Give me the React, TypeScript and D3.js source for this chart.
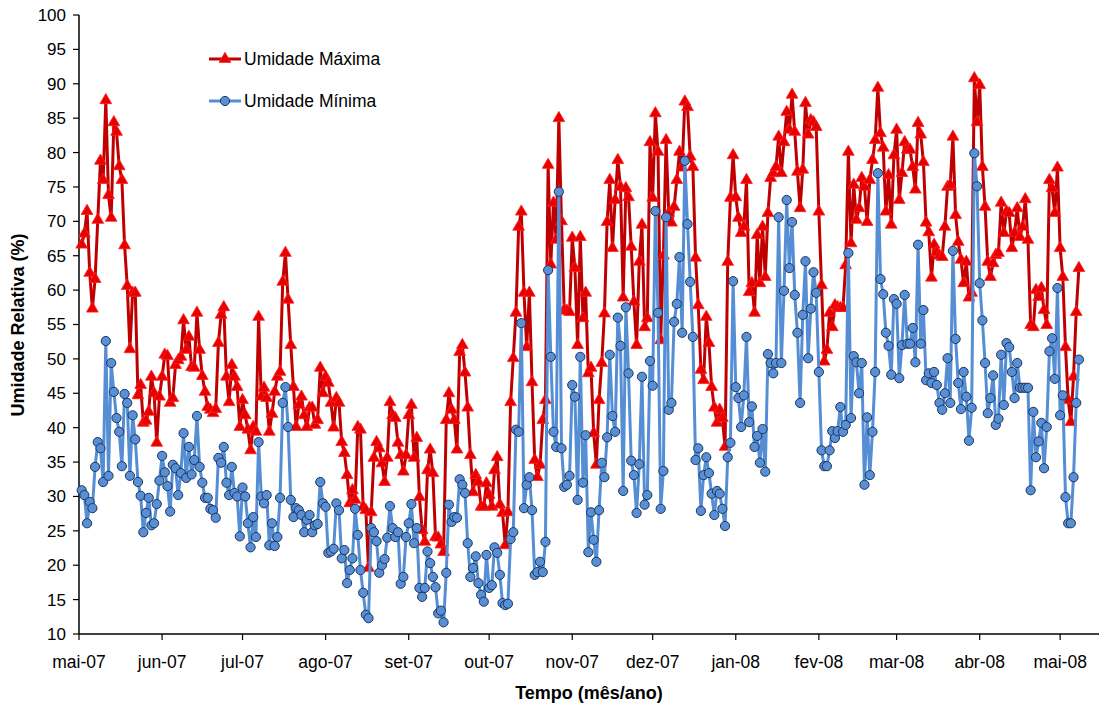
import React from "react";
import * as d3 from "d3";

// ---- Data (daily values, starting 2 May 2007) ----
const maxMay07 = [66.6, 68.2, 71.5, 62.5, 57.3, 61.6, 70.2, 78.8, 76, 87.6, 73.8, 70.5, 84.4, 83, 78, 76, 66.5, 60.6, 51.4, 59.6, 59.6, 44.7, 46.2, 40.7, 41, 42.3, 47.4, 45, 37.8, 44.5];
const maxJun07 = [47.4, 50.6, 50.4, 43.6, 44.3, 49.1, 49.8, 50.3, 55.6, 51.3, 53.2, 48.8, 48.7, 56.7, 51.3, 47.5, 45.2, 43, 42.6, 42.1, 42.7, 52.3, 56.4, 57.5, 47.4, 43.7, 49.1, 47.4, 45.9, 40.1];
const maxJul07 = [44, 41.8, 39.7, 36.7, 40.1, 39.4, 56.1, 44.5, 45.8, 44.3, 39.4, 42, 45.2, 47.4, 48.1, 61.2, 65.4, 58.6, 52, 45.9, 40.1, 43.3, 44.5, 41.8, 40.1, 42.9, 42.9, 40.4, 41.1, 48.7, 45];
const maxAug07 = [47.4, 46.5, 43.6, 40, 44.3, 43.6, 37.9, 36.3, 33.1, 29, 30.9, 29.5, 40.1, 39.7, 28.5, 28, 19.6, 27.7, 35.6, 37.9, 37, 34.8, 32.1, 35.6, 43.7, 41.8, 41.4, 37.8, 36, 33.6, 36];
const maxSep07 = [41.8, 43.3, 35.6, 38.5, 29.9, 25.1, 23.4, 33.8, 36.8, 33.4, 24.1, 24, 23, 21.9, 41.1, 45, 42.6, 41.1, 36.8, 51, 52, 48, 42.9, 36, 30.6, 33.1, 32.1, 28.5, 28.5, 31.9];
const maxOct07 = [30.2, 28.5, 33.8, 35.7, 28.8, 27.6, 22.9, 27.7, 43.7, 50.1, 56.7, 69.2, 71.4, 59.6, 51.7, 59.6, 46.6, 35.3, 32.8, 34.6, 41.1, 44, 78.2, 63.7, 72.7, 67.3, 85, 70, 57.1, 57, 56.8];
const maxNov07 = [67.6, 63.2, 52, 67.7, 55.9, 59.6, 47.9, 48.7, 39.2, 34.6, 44, 49.4, 56.6, 69.9, 76, 66.1, 73.1, 78.9, 75, 58.9, 74.8, 73.5, 66.3, 58.3, 52, 64.1, 69.5, 54.6, 55.9, 81.5];
const maxDec07 = [73.4, 85.7, 80.1, 52.7, 65, 81.8, 71.2, 69.8, 72.1, 76, 80.1, 77.8, 87.4, 86.6, 79.4, 77.9, 64.7, 57.8, 48.4, 46.9, 56.1, 52.3, 45.9, 42.9, 40.7, 42.6, 41.4, 37.2, 64.1, 73.4, 79.6];
const maxJan08 = [73.5, 70.5, 68.3, 69.2, 76, 59.7, 61, 56.7, 68, 61, 69.2, 61.9, 71.2, 76.3, 77, 77.9, 82.3, 77, 81.5, 85.9, 83.3, 88.4, 83, 77.2, 71.9, 77.5, 87.2, 82.6, 84.7, 84.4, 83.7];
const maxFeb08 = [71.4, 60.7, 49.6, 51.3, 56.7, 54.6, 57.8, 57.5, 57.4, 57.4, 63.6, 80.1, 66.8, 75.3, 70.2, 71.9, 76.3, 75, 69.9, 76, 78.9, 81.8, 89.4, 82.8, 80.7, 71.4, 76.7, 69.5, 79.6];
const maxMar08 = [83.3, 73.1, 77, 81.5, 80.4, 80.4, 77.9, 74.6, 84.3, 82.6, 78.6, 69.8, 68.4, 61.8, 66.6, 65.5, 65, 64.8, 69.2, 75, 75.3, 82.3, 70.9, 67, 64.4, 61, 64.1, 58.9, 59.6, 90.8, 84.4];
const maxApr08 = [89.8, 77.9, 72.1, 64.1, 61.9, 63.9, 65.1, 65.4, 72.7, 68.3, 71.4, 71.2, 66.1, 68.3, 71.9, 67.7, 69.2, 73.2, 67.3, 54.9, 54.6, 60, 59, 60.3, 57.1, 54.9, 76, 74.8, 71.2, 77.8];
const maxMay08 = [66.1, 61.9, 51.7, 44, 40.8, 47.4, 56.8, 63.2];

const minMay07 = [30.9, 30.2, 26.1, 29.2, 28.3, 34.3, 37.9, 37, 32.1, 52.6, 33, 49.4, 45.2, 41.4, 39.4, 34.4, 44.9, 43.6, 33, 41.8, 38.3, 32.1, 30.1, 24.8, 27.6, 29.8, 25.8, 26.1, 28.9, 32.3];
const minJun07 = [35.9, 33.5, 31.5, 27.8, 34.6, 34.1, 30.2, 33.4, 39.2, 32.7, 37.2, 33.2, 35.3, 41.7, 34.3, 32, 29.8, 29.8, 28.2, 28, 26.9, 35.6, 34.9, 37.2, 32, 30.2, 34.3, 30.5, 30, 24.2];
const minJul07 = [31.3, 30, 26.1, 22.6, 27, 24.1, 37.9, 30, 29, 30.2, 22.9, 26.1, 22.8, 24.1, 29.8, 43.6, 45.9, 40.1, 29.5, 27, 28.3, 28, 27.3, 24.8, 26.6, 27.3, 24.8, 25.8, 26, 32.1, 29];
const minAug07 = [28.5, 21.8, 22, 22.4, 29, 28, 21, 22.2, 17.4, 19.3, 21, 28.2, 24.4, 19.3, 16, 12.8, 12.3, 25.4, 24.8, 23.5, 18.9, 20, 20.9, 24, 28.6, 25.4, 24.1, 24.8, 17.3, 18.3, 24.1];
const minSep07 = [26.1, 28.9, 23.2, 25.4, 16.7, 15.4, 16.7, 22, 20.3, 18.3, 16.8, 13, 13.4, 11.7, 18.9, 28.8, 26.3, 27, 26.9, 32.5, 31.7, 30.5, 23.2, 18.3, 19.6, 21.3, 17.4, 15.7, 14.7, 21.5];
const minOct07 = [16.7, 17.1, 22.6, 21.8, 18.6, 14.5, 14.2, 14.4, 23.8, 24.8, 39.7, 39.4, 55.2, 28.3, 31.7, 32.8, 28, 18.6, 19, 20.5, 19, 23.4, 62.9, 50.3, 39.4, 37.2, 74.3, 37, 31.4, 31.7, 33];
const minNov07 = [46.2, 44.5, 29.5, 50.3, 32, 38.9, 21.9, 27.7, 23.7, 20.5, 28, 34.9, 32.8, 38.6, 50.6, 41.7, 39.4, 56, 51.9, 30.8, 57.5, 47.9, 35.2, 33.1, 27.6, 34.7, 47.4, 28.8, 30.2, 49.7];
const minDec07 = [46.1, 71.5, 56.7, 28.2, 33.7, 70.6, 42.6, 43.6, 55.4, 58, 64.8, 53.8, 78.8, 69.6, 61.2, 53.2, 35.3, 37, 27.9, 33.1, 35.7, 33.4, 30.4, 27.3, 30.8, 30.4, 28.2, 25.7, 35.7, 37.8, 61.3];
const minJan08 = [45.9, 44.3, 40.1, 44.7, 53.2, 40.8, 43.1, 37.2, 38.8, 34.9, 39.8, 33.6, 50.7, 49.4, 47.9, 49.4, 70.6, 49.4, 59.9, 73.1, 63.2, 69.9, 59.3, 53.8, 43.6, 56.4, 64.2, 50.1, 57.3, 62.6, 59.6];
const minFeb08 = [48.1, 36.7, 34.4, 34.4, 36.7, 39.5, 38.5, 39.5, 43, 39.4, 40.4, 65.4, 41.4, 50.4, 49.5, 45, 49.4, 31.7, 41.5, 33.1, 39.4, 48.1, 77, 61.6, 59.4, 53.8, 51.9, 47.7, 58.7];
const minMar08 = [58, 47.2, 52, 59.3, 52.2, 52.2, 54.5, 49.5, 66.6, 52.2, 57.1, 46.9, 47.9, 46.5, 48.1, 46.2, 43.6, 42.6, 45, 50.1, 43.6, 65.7, 52.9, 46.5, 42.7, 48.1, 44.5, 38.1, 42.9, 79.9, 75.1];
const minApr08 = [61, 55.6, 49.4, 42.1, 44.3, 47.6, 40.4, 41.3, 50.6, 43.3, 52.3, 51.7, 48.1, 44.3, 49.4, 45.8, 45.8, 45.8, 45.8, 30.9, 42.3, 35.7, 38, 40.7, 34.1, 40.1, 51.1, 53, 47.1, 60.3];
const minMay08 = [41.8, 44.7, 29.9, 26.1, 26.1, 32.8, 43.6, 49.9];

const tickLabels = ["mai-07", "jun-07", "jul-07", "ago-07", "set-07", "out-07", "nov-07", "dez-07", "jan-08", "fev-08", "mar-08", "abr-08", "mai-08"];
const yTicks = [10, 15, 20, 25, 30, 35, 40, 45, 50, 55, 60, 65, 70, 75, 80, 85, 90, 95, 100];
const seriesNames = ["Umidade Máxima", "Umidade Mínima"];

const maxValues = [...maxMay07, ...maxJun07, ...maxJul07, ...maxAug07, ...maxSep07, ...maxOct07, ...maxNov07, ...maxDec07, ...maxJan08, ...maxFeb08, ...maxMar08, ...maxApr08, ...maxMay08];
const minValues = [...minMay07, ...minJun07, ...minJul07, ...minAug07, ...minSep07, ...minOct07, ...minNov07, ...minDec07, ...minJan08, ...minFeb08, ...minMar08, ...minApr08, ...minMay08];

const startDate = new Date(2007, 4, 2);
type Pt = { date: Date; v: number };
const toSeries = (vals: number[]): Pt[] => vals.map((v, i) => ({ date: d3.timeDay.offset(startDate, i), v }));

const FONT = "'Liberation Sans', Arial, Helvetica, sans-serif";
const RED_LINE = "#C00000";
const RED_FILL = "#E80000";
const BLUE_LINE = "#558ED5";
const BLUE_FILL = "#5A8FD6";
const BLUE_STROKE = "#17375E";

export default function App() {
  const W = 1103, H = 709;
  const x = d3.scaleTime().domain([new Date(2007, 4, 1), new Date(2008, 4, 15, 12)]).range([79, 1099]);
  const y = d3.scaleLinear().domain([10, 100]).range([634, 15]);
  const maxS = toSeries(maxValues);
  const minS = toSeries(minValues);
  const line = d3.line<Pt>().x(d => x(d.date)).y(d => y(d.v));
  const tri = d3.symbol().type(d3.symbolTriangle).size(60)() as string;
  const tickDates = tickLabels.map((_, k) => new Date(2007, 4 + k, 1));

  return (
    <svg width={W} height={H} style={{ position: "absolute", left: 0, top: 0, display: "block", background: "#fff" }} fontFamily={FONT}>
      {/* axes */}
      <line x1={79} y1={15} x2={79} y2={634} stroke="#000" strokeWidth={1.5} />
      <line x1={79} y1={634} x2={1099} y2={634} stroke="#000" strokeWidth={1.5} />
      {yTicks.map(t => (
        <g key={t}>
          <line x1={73} x2={79} y1={y(t)} y2={y(t)} stroke="#000" strokeWidth={1.2} />
          <text x={66} y={y(t)} dy="0.35em" textAnchor="end" fontSize={17} fill="#000">{t}</text>
        </g>
      ))}
      {tickDates.map((d, k) => (
        <g key={k}>
          <line x1={x(d)} x2={x(d)} y1={634} y2={640} stroke="#000" strokeWidth={1.2} />
          <text x={x(d)} y={668} textAnchor="middle" fontSize={17.5} fill="#000">{tickLabels[k]}</text>
        </g>
      ))}
      <text transform="translate(24,325) rotate(-90)" textAnchor="middle" fontSize={18} fontWeight="bold" fill="#000">Umidade Relativa (%)</text>
      <text x={589} y={699} textAnchor="middle" fontSize={18} fontWeight="bold" fill="#000">Tempo (mês/ano)</text>

      {/* max series */}
      <path d={line(maxS) as string} fill="none" stroke={RED_LINE} strokeWidth={3} strokeLinejoin="round" />
      {maxS.map((d, i) => (
        <path key={"a" + i} d={tri} transform={`translate(${x(d.date)},${y(d.v)})`} fill={RED_FILL} stroke="#FF2020" strokeWidth={0.8} />
      ))}
      {/* min series */}
      <path d={line(minS) as string} fill="none" stroke={BLUE_LINE} strokeWidth={3} strokeLinejoin="round" />
      {minS.map((d, i) => (
        <circle key={"b" + i} cx={x(d.date)} cy={y(d.v)} r={4.6} fill={BLUE_FILL} stroke={BLUE_STROKE} strokeWidth={1} />
      ))}

      {/* legend */}
      <line x1={209} x2={241} y1={59} y2={59} stroke={RED_LINE} strokeWidth={3} />
      <path d={tri} transform="translate(225,59)" fill={RED_FILL} stroke="#FF2020" strokeWidth={0.8} />
      <text x={244} y={59} dy="0.35em" fontSize={17.5} fill="#000">{seriesNames[0]}</text>
      <line x1={209} x2={241} y1={101} y2={101} stroke={BLUE_LINE} strokeWidth={3} />
      <circle cx={225} cy={101} r={4.6} fill={BLUE_FILL} stroke={BLUE_STROKE} strokeWidth={1} />
      <text x={244} y={101} dy="0.35em" fontSize={17.5} fill="#000">{seriesNames[1]}</text>
    </svg>
  );
}
